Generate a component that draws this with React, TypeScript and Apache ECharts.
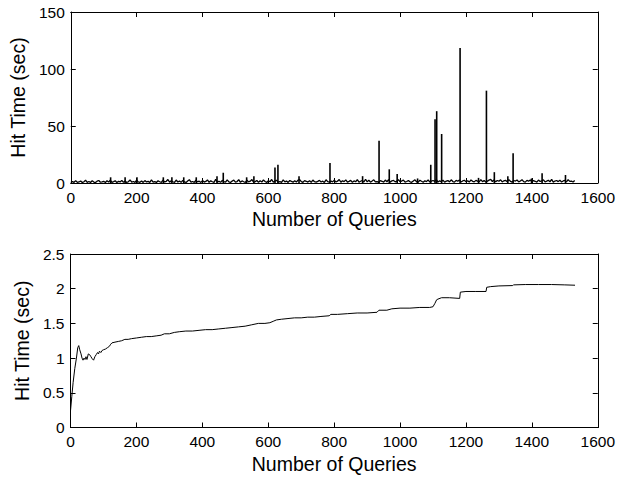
import React, { useEffect, useRef } from "react";
import * as echarts from "echarts";

// Tick values
const xTicks = { min: 0, max: 1600, interval: 200 };
const topY = { min: 0, max: 150, interval: 50 };
const bottomY = { min: 0, max: 2.5, interval: 0.5 };

// Baseline hit times, one value every 5 queries starting at query 0
const baselineStep = 5;
const baselineHits = [
  0.4,1.2,0.6,2.1,0.5,0.9,1.8,0.4,1.1,2.4,0.6,1.3,0.5,1.9,0.8,0.4,1.6,2.2,0.7,1.0,
  1.5,0.5,2.0,0.8,2.6,0.6,1.2,1.9,0.5,1.4,0.9,2.3,0.6,1.7,0.5,1.1,2.8,0.7,1.3,0.6,
  2.4,1.0,0.6,1.8,0.5,2.1,0.9,1.4,0.6,2.7,0.8,1.2,0.5,1.9,1.1,0.6,2.5,0.9,1.5,3.1,
  0.7,2.0,1.1,0.5,2.6,0.9,1.7,0.6,2.2,1.0,0.5,1.8,2.9,0.7,1.3,0.6,2.4,1.0,1.6,0.5,
  2.1,0.8,1.4,2.7,0.6,1.9,1.1,0.5,3.2,0.9,1.5,0.6,2.3,1.2,0.7,2.8,1.0,0.5,1.7,2.5,
  0.8,1.3,2.9,0.6,1.8,1.1,0.5,2.4,1.0,1.6,3.0,0.7,1.2,2.2,0.6,1.9,0.9,2.6,1.3,0.5,
  2.0,1.1,3.1,0.7,1.6,2.4,0.8,1.2,0.6,2.7,1.0,1.8,0.5,2.2,1.4,0.7,1.9,0.9,2.5,3.0,
  1.2,0.6,2.1,1.5,0.8,1.9,0.6,2.6,1.1,0.7,1.4,2.3,0.9,1.6,0.5,2.8,1.2,0.8,1.7,1.0,
  2.5,0.9,1.6,3.1,0.7,2.0,1.2,2.7,0.8,1.4,2.3,0.6,1.8,1.1,2.9,0.7,1.5,2.2,0.9,3.3,
  1.0,2.4,0.7,1.7,2.8,0.9,1.3,0.6,2.1,1.5,0.8,2.6,1.1,3.0,0.7,1.9,2.3,1.0,1.6,2.9,
  0.9,1.8,2.5,0.7,1.3,2.2,1.0,0.6,1.7,2.8,1.1,0.8,2.4,1.5,0.7,2.0,1.2,2.7,0.9,1.6,
  2.2,1.4,2.9,0.8,1.9,1.1,2.5,0.7,1.6,2.1,1.0,2.8,1.3,0.8,2.3,1.5,2.6,0.9,1.8,2.4,
  1.1,2.0,0.8,2.7,1.5,1.0,2.3,1.7,0.9,2.9,1.2,2.1,0.8,1.6,2.5,3.2,1.3,2.6,1.0,2.2,
  1.5,2.8,0.9,1.9,2.4,1.1,3.0,1.4,0.8,2.2,1.7,2.6,1.0,1.8,2.9,1.2,0.8,2.3,1.6,2.7,
  1.0,2.1,1.5,0.8,2.6,1.3,1.9,2.8,0.9,1.6,2.4,1.1,3.1,0.8,1.7,2.2,1.2,2.5,0.9,1.8,
  2.3,1.0,2.9,1.4,1.7,0.9,2.2,
];

// Individual spikes: [query number, hit time in seconds]
const spikes: [number, number][] = [
  [121, 5], [165, 5], [201, 5], [281, 5], [307, 5], [343, 5], [381, 5],
  [444, 6], [463, 9], [534, 5], [556, 6], [620, 13.5], [629, 16], [693, 6],
  [787, 17.5], [886, 6], [936, 37], [967, 12], [991, 8], [1053, 4],
  [1093, 16], [1106, 56], [1111, 63], [1126, 43], [1182, 118.5], [1238, 4.5],
  [1262, 81], [1286, 9.5], [1327, 6], [1343, 26], [1399, 4], [1431, 8.5], [1502, 7],
];

// Running mean of hit time: [query number, mean hit time]
const meanCurve: [number, number][] = [
  [0,0.24],[4,0.45],[8,0.65],[13,0.85],[18,1.0],[22,1.15],[25,1.18],[28,1.12],[32,1.06],[35,1.0],
  [38,0.97],[41,1.0],[44,0.98],[47,1.02],[50,0.98],[54,1.06],[58,1.05],[62,1.02],[66,0.99],[70,0.97],
  [74,1.02],[78,1.05],[82,1.08],[85,1.06],[88,1.1],[92,1.08],[96,1.11],[100,1.12],[106,1.13],[112,1.15],
  [118,1.17],[122,1.2],[126,1.22],[135,1.23],[145,1.24],[155,1.25],[165,1.27],[175,1.27],[185,1.28],[200,1.29],
  [215,1.3],[230,1.31],[245,1.31],[260,1.32],[275,1.33],[285,1.35],[300,1.35],[315,1.37],[330,1.38],[350,1.39],
  [370,1.39],[390,1.4],[410,1.41],[430,1.41],[450,1.42],[470,1.43],[490,1.44],[510,1.45],[530,1.46],[550,1.48],
  [570,1.5],[590,1.5],[605,1.51],[615,1.53],[625,1.55],[640,1.56],[660,1.57],[680,1.58],[700,1.58],[720,1.59],
  [740,1.59],[760,1.6],[785,1.61],[790,1.63],[810,1.63],[840,1.64],[870,1.65],[900,1.65],[930,1.66],[936,1.69],
  [960,1.69],[975,1.71],[1000,1.72],[1030,1.72],[1060,1.73],[1090,1.73],[1100,1.74],[1106,1.79],[1111,1.84],[1115,1.85],
  [1126,1.87],[1150,1.87],[1181,1.86],[1183,1.95],[1200,1.96],[1230,1.96],[1261,1.96],[1263,2.02],[1275,2.03],[1300,2.04],
  [1342,2.045],[1344,2.055],[1380,2.06],[1420,2.06],[1460,2.06],[1500,2.055],[1531,2.05],
];

const xTitle = "Number of Queries";
const yTitle = "Hit Time (sec)";

const FONT = "Liberation Sans, Arial, Helvetica, sans-serif";

export default function App() {
  const ref = useRef<HTMLDivElement>(null);

  useEffect(() => {
    document.body.style.margin = "0";
    if (!ref.current) return;
    const chart = echarts.init(ref.current, null, { renderer: "svg" });

    const baselineData: [number, number][] = baselineHits.map(
      (v, i) => [i * baselineStep, v] as [number, number]
    );

    const lineStyleAxis = { color: "#000", width: 1 };
    const label = {
      color: "#000",
      fontSize: 15.5,
      fontFamily: FONT,
      formatter: (v: number) => String(v),
    };
    const nameStyle = { color: "#000", fontSize: 19.5, fontFamily: FONT };

    const mkX = (gridIndex: number, pos: "bottom" | "top", labels: boolean) => ({
      type: "value",
      gridIndex,
      position: pos,
      ...xTicks,
      axisLine: { show: true, onZero: false, lineStyle: lineStyleAxis },
      axisTick: { show: true, inside: true, length: 5, lineStyle: lineStyleAxis },
      axisLabel: { show: labels, margin: 6, ...label },
      splitLine: { show: false },
      name: labels ? xTitle : "",
      nameLocation: "middle",
      nameGap: 26,
      nameTextStyle: nameStyle,
    });

    const mkY = (gridIndex: number, pos: "left" | "right", labels: boolean, r: any) => ({
      type: "value",
      gridIndex,
      position: pos,
      ...r,
      axisLine: { show: true, onZero: false, lineStyle: lineStyleAxis },
      axisTick: { show: true, inside: true, length: 5, lineStyle: lineStyleAxis },
      axisLabel: { show: labels, margin: 6, ...label },
      splitLine: { show: false },
      name: labels ? yTitle : "",
      nameLocation: "middle",
      nameGap: 32,
      nameTextStyle: nameStyle,
    });

    chart.setOption({
      animation: false,
      backgroundColor: "#fff",
      textStyle: { fontFamily: FONT },
      grid: [
        { left: 70.5, top: 12, width: 527.5, height: 171 },
        { left: 70.5, top: 254, width: 527.5, height: 173.5 },
      ],
      xAxis: [
        mkX(0, "bottom", true),
        mkX(0, "top", false),
        mkX(1, "bottom", true),
        mkX(1, "top", false),
      ],
      yAxis: [
        mkY(0, "left", true, topY),
        mkY(0, "right", false, topY),
        mkY(1, "left", true, bottomY),
        mkY(1, "right", false, bottomY),
      ],
      series: [
        {
          type: "line",
          xAxisIndex: 0,
          yAxisIndex: 0,
          data: baselineData,
          showSymbol: false,
          symbol: "none",
          lineStyle: { color: "#000", width: 1.3 },
        },
        {
          type: "bar",
          xAxisIndex: 0,
          yAxisIndex: 0,
          data: spikes,
          barWidth: 1.6,
          itemStyle: { color: "#000" },
        },
        {
          type: "line",
          xAxisIndex: 2,
          yAxisIndex: 2,
          data: meanCurve,
          showSymbol: false,
          symbol: "none",
          lineStyle: { color: "#000", width: 1 },
        },
      ],
    });

    return () => chart.dispose();
  }, []);

  return <div ref={ref} style={{ width: 618, height: 479 }} />;
}
